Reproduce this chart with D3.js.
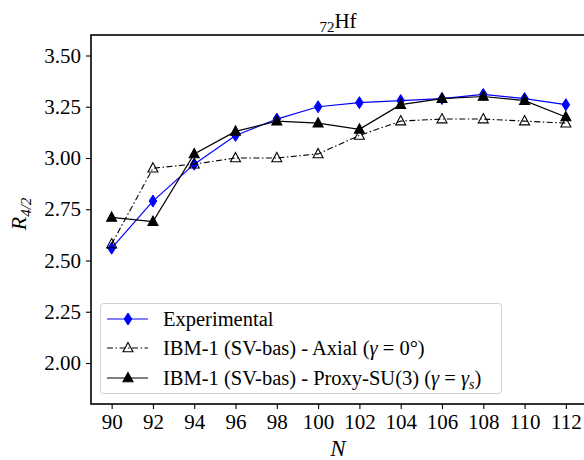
<!DOCTYPE html>
<html>
<head>
<meta charset="utf-8">
<script src="https://cdn.jsdelivr.net/npm/d3@7"></script>
<style>
body { margin: 0; background: #fff; }
</style>
</head>
<body>
<div id="chart"></div>
<script>
var width = 584;
var height = 460;
var serif = "'Liberation Serif', 'Times New Roman', 'DejaVu Serif', serif";

// neutron numbers and R4/2 values
var neutrons = [90, 92, 94, 96, 98, 100, 102, 104, 106, 108, 110, 112];
var experimental = [2.56, 2.79, 2.97, 3.11, 3.19, 3.25, 3.27, 3.28, 3.29, 3.31, 3.29, 3.26];
var axial = [2.58, 2.95, 2.97, 3.00, 3.00, 3.02, 3.11, 3.18, 3.19, 3.19, 3.18, 3.17];
var proxy = [2.71, 2.69, 3.02, 3.13, 3.18, 3.17, 3.14, 3.26, 3.29, 3.30, 3.28, 3.20];
var yTicks = [2.00, 2.25, 2.50, 2.75, 3.00, 3.25, 3.50];

var x = d3.scaleLinear().domain([89, 113]).range([91, 586.5]);
var y = d3.scaleLinear().domain([1.8, 3.6]).range([404, 35]);

var svg = d3.select("#chart").append("svg")
	.attr("width", width)
	.attr("height", height)
	.style("font-family", serif);

// axes
var gx = svg.append("g")
	.attr("transform", `translate(0,${y(1.8)})`)
	.call(d3.axisBottom(x).tickValues(neutrons).tickSize(5).tickPadding(5).tickFormat(d3.format("d")));
var gy = svg.append("g")
	.attr("transform", `translate(${x(89)},0)`)
	.call(d3.axisLeft(y).tickValues(yTicks).tickSize(5).tickPadding(5).tickFormat(d3.format(".2f")));

[gx, gy].forEach(g => {
	g.attr("font-family", null).attr("font-size", null);
	g.select(".domain").remove();
	g.selectAll(".tick line").attr("stroke", "#000").attr("stroke-width", 1.1);
	g.selectAll(".tick text").attr("fill", "#000").style("font-family", serif).style("font-size", "21px");
});

// frame
svg.append("rect")
	.attr("x", x(89)).attr("y", y(3.6))
	.attr("width", x(113) - x(89)).attr("height", y(1.8) - y(3.6))
	.attr("fill", "none").attr("stroke", "#000").attr("stroke-width", 1.6);

var line = d3.line().x((d, i) => x(neutrons[i])).y(d => y(d));

function diamond(g, cx, cy, color) {
	g.append("path")
		.attr("d", `M${cx},${cy - 6}L${cx + 3.8},${cy}L${cx},${cy + 6}L${cx - 3.8},${cy}Z`)
		.attr("fill", color).attr("stroke", color).attr("stroke-width", 1);
}

function triangle(g, cx, cy, filled) {
	g.append("path")
		.attr("d", `M${cx},${cy - 5.5}L${cx + 5},${cy + 3.8}L${cx - 5},${cy + 3.8}Z`)
		.attr("fill", filled ? "#000" : "none").attr("stroke", "#000").attr("stroke-width", 1.1);
}

var gData = svg.append("g");

gData.append("path").datum(experimental)
	.attr("d", line).attr("fill", "none").attr("stroke", "blue").attr("stroke-width", 1.2);
experimental.forEach((d, i) => diamond(gData, x(neutrons[i]), y(d), "blue"));

gData.append("path").datum(axial)
	.attr("d", line).attr("fill", "none").attr("stroke", "#000").attr("stroke-width", 1.1)
	.attr("stroke-dasharray", "6,2.5,1.5,2.5");
axial.forEach((d, i) => triangle(gData, x(neutrons[i]), y(d), false));

gData.append("path").datum(proxy)
	.attr("d", line).attr("fill", "none").attr("stroke", "#000").attr("stroke-width", 1.2);
proxy.forEach((d, i) => triangle(gData, x(neutrons[i]), y(d), true));

// title
var title = svg.append("text")
	.attr("x", 338).attr("y", 28)
	.attr("text-anchor", "middle")
	.style("font-size", "21px");
title.append("tspan").attr("dy", 4).style("font-size", "15px").text("72");
title.append("tspan").attr("dy", -4).text("Hf");

// axis labels
svg.append("text")
	.attr("x", 338).attr("y", 456)
	.attr("text-anchor", "middle")
	.style("font-size", "23px").style("font-style", "italic")
	.text("N");

var ylab = svg.append("text")
	.attr("transform", "translate(26,214) rotate(-90)")
	.attr("text-anchor", "middle")
	.style("font-size", "22px");
ylab.append("tspan").style("font-style", "italic").text("R");
ylab.append("tspan").attr("dy", 5).style("font-size", "15px").style("font-style", "italic").text("4/2");

// legend
var legend = svg.append("g");
legend.append("rect")
	.attr("x", 100.5).attr("y", 303.5).attr("width", 401).attr("height", 90).attr("rx", 3)
	.attr("fill", "#fff").attr("fill-opacity", 0.8).attr("stroke", "#d0d0d0").attr("stroke-width", 1);

var rows = [
	{y: 319, color: "blue", dash: null, mark: "d"},
	{y: 348, color: "#000", dash: "6,2.5,1.5,2.5", mark: "open"},
	{y: 378, color: "#000", dash: null, mark: "filled"}
];
rows.forEach(r => {
	legend.append("line")
		.attr("x1", 107).attr("x2", 148).attr("y1", r.y).attr("y2", r.y)
		.attr("stroke", r.color).attr("stroke-width", 1.2)
		.attr("stroke-dasharray", r.dash);
	if (r.mark == "d") diamond(legend, 128, r.y, "blue");
	else triangle(legend, 128, r.y, r.mark == "filled");
});

var fs = "20.5px";
legend.append("text").attr("x", 163).attr("y", 326).style("font-size", fs).text("Experimental");
var t2 = legend.append("text").attr("x", 163).attr("y", 355).style("font-size", fs);
t2.append("tspan").text("IBM-1 (SV-bas) - Axial (");
t2.append("tspan").style("font-style", "italic").text("γ");
t2.append("tspan").text(" = 0°)");
var t3 = legend.append("text").attr("x", 163).attr("y", 385).style("font-size", fs);
t3.append("tspan").text("IBM-1 (SV-bas) - Proxy-SU(3) (");
t3.append("tspan").style("font-style", "italic").text("γ");
t3.append("tspan").text(" = ");
t3.append("tspan").style("font-style", "italic").text("γ");
t3.append("tspan").attr("dy", 4).style("font-size", "14px").style("font-style", "italic").text("s");
t3.append("tspan").attr("dy", -4).text(")");
</script>
</body>
</html>
